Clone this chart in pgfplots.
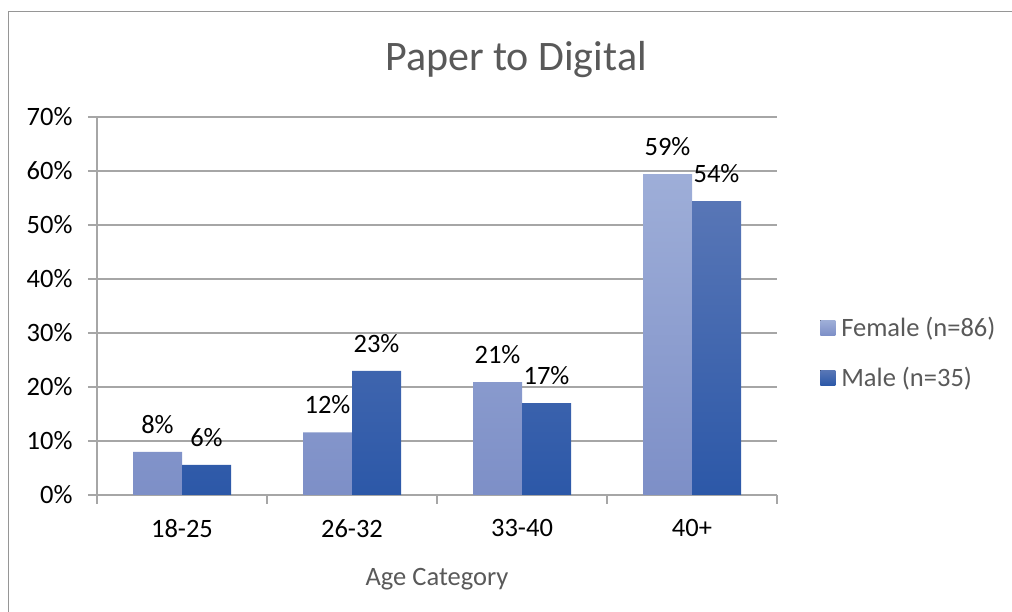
\documentclass[border=0pt]{standalone}
\usepackage{fontspec}
\setmainfont{Carlito}
\usepackage{pgfplots}
\pgfplotsset{compat=1.18}
\definecolor{fA}{RGB}{158,174,216}
\definecolor{fB}{RGB}{125,143,199}
\definecolor{mA}{RGB}{88,118,182}
\definecolor{mB}{RGB}{44,88,168}
\definecolor{txtgray}{RGB}{89,89,89}
\definecolor{gridgray}{RGB}{166,166,166}
\definecolor{framegray}{RGB}{150,150,150}
\begin{document}
\begin{tikzpicture}[x=1pt,y=1pt]
\useasboundingbox (0,0) rectangle (1012,612);
\draw[framegray, line width=1.5pt] (8.5,-20) -- (8.5,600.5) -- (1030,600.5);
\node[txtgray, font=\fontsize{42}{50}\selectfont] at (516,552) {Paper to Digital};
\begin{axis}[
  at={(97pt,117pt)}, anchor=south west,
  scale only axis, width=680pt, height=378pt,
  xmin=-0.5, xmax=3.5, ymin=0, ymax=70,
  ybar=0pt, bar width=49pt,
  axis x line*=bottom, axis y line*=left,
  axis line style={gridgray, line width=1.5pt, -},
  ymajorgrids, grid style={gridgray, line width=1.5pt},
  ytick={0,10,...,70},
  yticklabels={0\%,10\%,20\%,30\%,40\%,50\%,60\%,70\%},
  xtick={-0.5,0.5,1.5,2.5,3.5},
  xticklabels={18-25,26-32,33-40,40+},
  x tick label as interval=true,
  tick align=outside, major tick length=9pt,
  tick style={gridgray, line width=1.5pt},
  ticklabel style={font=\fontsize{26.5}{31}\selectfont, black},
  yticklabel style={xshift=-12pt},
  xticklabel style={yshift=-12pt},
  xlabel={Age Category}, xlabel style={txtgray, font=\fontsize{26.5}{31}\selectfont, yshift=-24pt},
  nodes near coords={\pgfmathprintnumber[fixed,precision=0]{\pgfplotspointmeta}\%},
  nodes near coords style={font=\fontsize{26.5}{31}\selectfont, black, yshift=15pt},
  /pgf/number format/assume math mode=true,
  legend style={draw=none, fill=none, at={(1.059,0.376)}, anchor=west,
    font=\fontsize{26.5}{31}\selectfont, text=txtgray, row sep=25pt},
  legend cell align=left,
  legend image code/.code={\fill[#1] (0pt,-7.5pt) rectangle (15pt,7.5pt); \path (19pt,0pt);},
]
\addplot[top color=fA, bottom color=fB, draw=none] coordinates {(0,8.0) (1,11.6) (2,20.9) (3,59.4)};
\addplot[top color=mA, bottom color=mB, draw=none] coordinates {(0,5.6) (1,23.0) (2,17.0) (3,54.4)};
\legend{Female (n=86), Male (n=35)}
\end{axis}
\end{tikzpicture}
\end{document}
